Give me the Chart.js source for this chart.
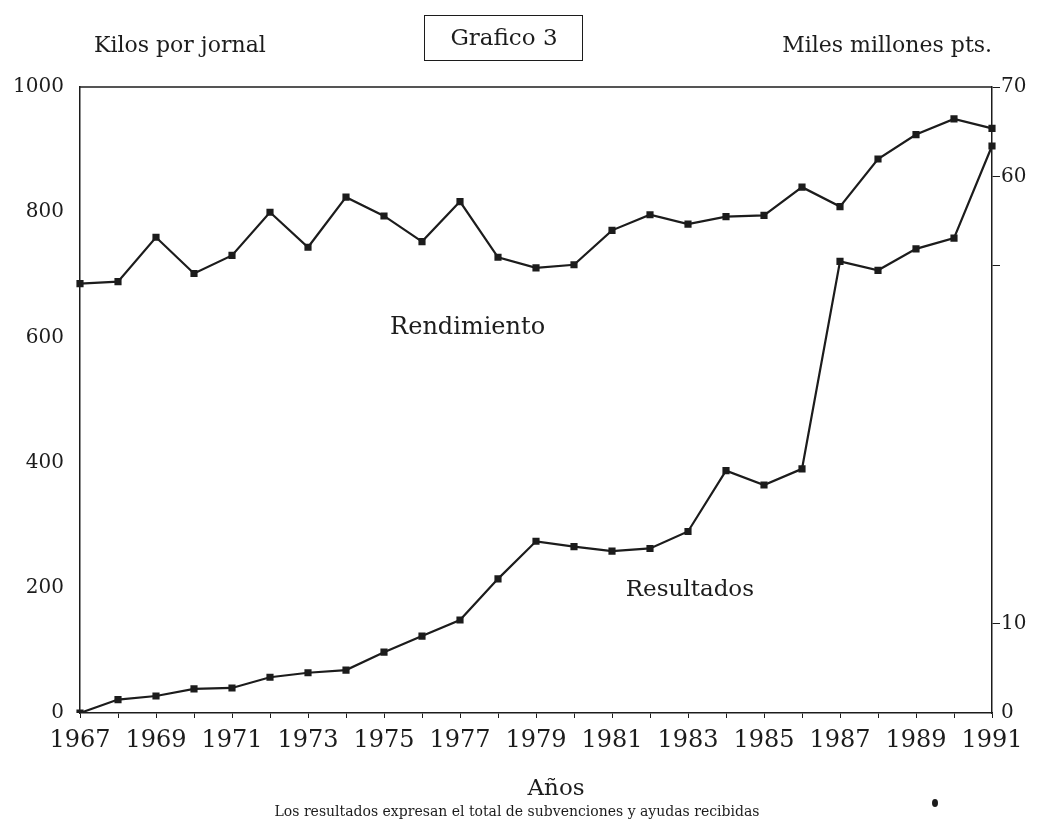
<!DOCTYPE html>
<html>
<head>
<meta charset="utf-8">
<script src="https://cdn.jsdelivr.net/npm/chart.js@4"></script>
<style>
	body { margin: 0; background: #fff; }
	#wrap { width: 1039px; height: 826px; position: relative; }
</style>
</head>
<body>
<div id="wrap"><canvas id="grafico"></canvas></div>
<script>
const years = [
	"1967", "1968", "1969", "1970", "1971", "1972", "1973", "1974", "1975",
	"1976", "1977", "1978", "1979", "1980", "1981", "1982", "1983", "1984",
	"1985", "1986", "1987", "1988", "1989", "1990", "1991",
];
// kilos por jornal (left axis)
const rendimiento = [
	686, 689, 760, 702, 731, 800, 744, 824, 794, 753, 817, 728, 711, 716, 771,
	796, 781, 793, 795, 840, 809, 885, 924, 949, 934,
];
// miles millones pts. (right axis)
const resultados = [
	0, 1.5, 1.9, 2.7, 2.8, 4.0, 4.5, 4.8, 6.8, 8.6, 10.4, 15.0, 19.2, 18.6, 18.1,
	18.4, 20.3, 27.1, 25.5, 27.3, 50.5, 49.5, 51.9, 53.1, 63.4,
];
const leftTicks = [0, 200, 400, 600, 800, 1000];
const rightLabels = [0, 10, 60, 70];
const rightMarks = [10, 50, 60, 70];

const ink = "#1c1c1c";
const serif = "'DejaVu Serif', 'Liberation Serif', serif";

const decor = {
	id: "decor",
	afterDraw(chart) {
		const { ctx, chartArea: a, scales } = chart;
		ctx.save();
		ctx.strokeStyle = ink;
		ctx.lineWidth = 1.5;
		ctx.beginPath();
		ctx.moveTo(a.left, a.top);
		ctx.lineTo(a.right, a.top);
		ctx.stroke();

		ctx.fillStyle = ink;
		ctx.textBaseline = "middle";
		ctx.font = "22px " + serif;
		ctx.textAlign = "left";
		ctx.fillText("Kilos por jornal", 94, 46);
		ctx.textAlign = "right";
		ctx.fillText("Miles millones pts.", 992, 46);
		ctx.textAlign = "center";
		ctx.font = "23px " + serif;
		ctx.fillText("Grafico 3", 504, 39);
		ctx.lineWidth = 1;
		ctx.strokeRect(424.5, 15.5, 158, 45);

		// series labels, placed in data coordinates
		ctx.font = "24px " + serif;
		ctx.fillText("Rendimiento", scales.x.getPixelForValue(10.2), scales.y.getPixelForValue(616));
		ctx.font = "23px " + serif;
		ctx.fillText("Resultados", scales.x.getPixelForValue(16.05), scales.y.getPixelForValue(197));

		ctx.font = "23px " + serif;
		ctx.fillText("Años", 556, 789);
		ctx.font = "14px " + serif;
		ctx.fillText("Los resultados expresan el total de subvenciones y ayudas recibidas", 517, 812);

		ctx.beginPath();
		ctx.ellipse(935, 803, 3, 4, 0, 0, Math.PI * 2);
		ctx.fill();
		ctx.restore();
	},
};

Chart.defaults.font.family = serif;
Chart.defaults.color = ink;

new Chart(document.getElementById("grafico"), {
	type: "line",
	data: {
		labels: years,
		datasets: [
			{
				label: "Rendimiento",
				data: rendimiento,
				yAxisID: "y",
				borderColor: ink,
				backgroundColor: ink,
				borderWidth: 2.2,
				pointStyle: "rect",
				pointRadius: 3.5,
				tension: 0,
			},
			{
				label: "Resultados",
				data: resultados,
				yAxisID: "y2",
				borderColor: ink,
				backgroundColor: ink,
				borderWidth: 2.2,
				pointStyle: "rect",
				pointRadius: 3.5,
				tension: 0,
			},
		],
	},
	options: {
		responsive: true,
		maintainAspectRatio: false,
		animation: false,
		layout: { padding: { top: 87, left: 0, right: 0, bottom: 0 } },
		plugins: {
			legend: { display: false },
			tooltip: { enabled: false },
		},
		scales: {
			x: {
				type: "category",
				offset: false,
				afterFit: (s) => { s.height = 113; },
				border: { display: true, color: ink, width: 1.5 },
				grid: { drawOnChartArea: false, tickLength: 5, tickColor: ink },
				ticks: {
					autoSkip: false,
					maxRotation: 0,
					padding: 8,
					font: { size: 24 },
					callback: (v, i) => (i % 2 === 0 ? years[i] : ""),
				},
			},
			y: {
				position: "left",
				min: 0,
				max: 1000,
				afterFit: (s) => { s.width = 80; },
				afterBuildTicks: (s) => { s.ticks = leftTicks.map((v) => ({ value: v })); },
				border: { display: true, color: ink, width: 1.5 },
				grid: { drawOnChartArea: false, drawTicks: false },
				ticks: { padding: 16, font: { size: 20 }, callback: (v) => String(v) },
			},
			y2: {
				position: "right",
				min: 0,
				max: 70,
				afterFit: (s) => { s.width = 47; },
				border: { display: true, color: ink, width: 1.5 },
				grid: {
					drawOnChartArea: false,
					tickLength: 8,
					tickColor: (c) => (rightMarks.includes(c.tick && c.tick.value) ? ink : "rgba(0,0,0,0)"),
				},
				ticks: {
					stepSize: 10,
					padding: 1,
					font: { size: 20 },
					callback: (v) => (rightLabels.includes(v) ? String(v) : ""),
				},
			},
		},
	},
	plugins: [decor],
});
</script>
</body>
</html>
